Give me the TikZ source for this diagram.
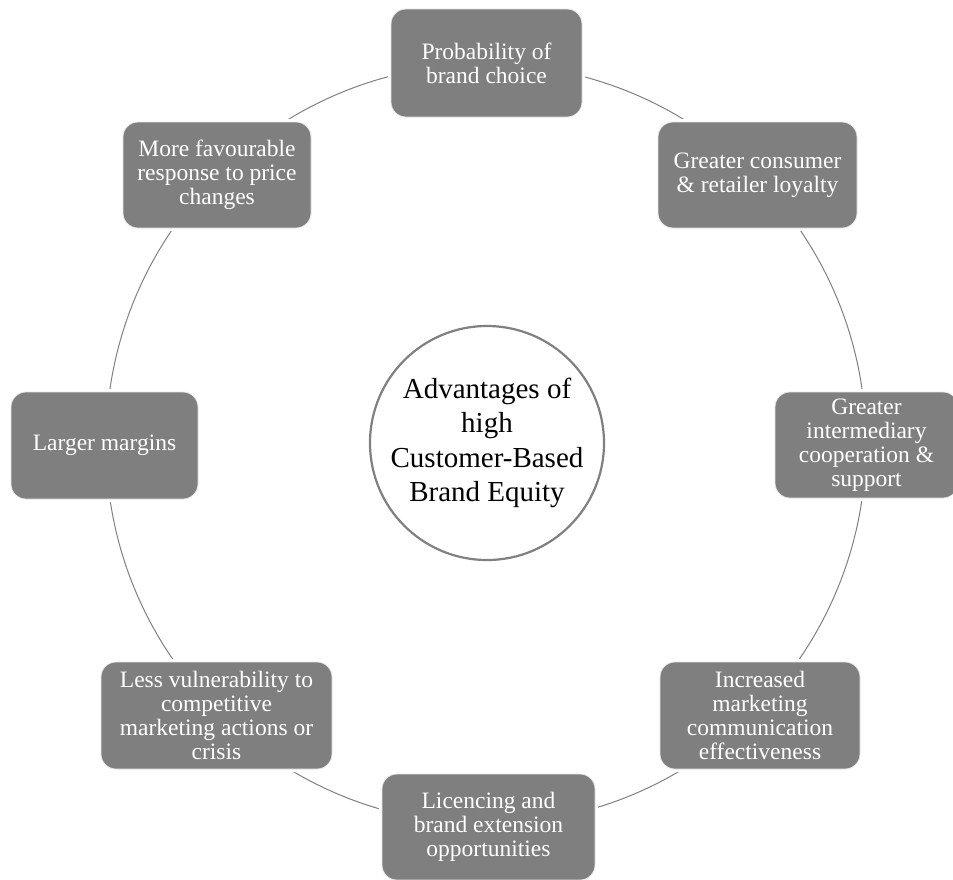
\documentclass[tikz,border=0pt]{standalone}
\usepackage{fontspec}
\setmainfont{Liberation Serif}
\definecolor{boxgray}{HTML}{7F7F7F}
\definecolor{boxedge}{HTML}{E6E6E6}
\definecolor{ringgray}{HTML}{808080}
\begin{document}
\begin{tikzpicture}[x=1pt,y=-1pt,
  benefit/.style={rectangle, rounded corners=15pt, fill=boxgray, draw=boxedge,
    line width=0.8pt, align=center, text=white, inner sep=0pt,
    font=\fontsize{23.5}{24}\selectfont,
    preaction={draw=white, line width=6pt}},
  hub/.style={circle, draw=ringgray, line width=2.2pt, fill=white, inner sep=0pt,
    align=center, font=\fontsize{29}{34.5}\selectfont, text=black},
  ringstyle/.style={circle, draw=ringgray, line width=1pt, inner sep=0pt}]
\useasboundingbox (0,0) rectangle (953,879);
\node[ringstyle, minimum size=760pt] (ring) at (486,444) {};
\node[hub, minimum size=234pt] (center) at (487,443) {Advantages of\\high\\Customer-Based\\Brand Equity};
\node[benefit, minimum width=191pt, minimum height=108pt] (top) at (486.5,63) {Probability of\\brand choice};
\node[benefit, minimum width=199pt, minimum height=106pt] (tr) at (757.5,175) {Greater consumer\\\& retailer loyalty};
\node[benefit, minimum width=183pt, minimum height=106pt] (r) at (866.5,445) {Greater\\intermediary\\cooperation \&\\support};
\node[benefit, minimum width=200pt, minimum height=107pt] (br) at (760,715.5) {Increased\\marketing\\communication\\effectiveness};
\node[benefit, minimum width=213pt, minimum height=106pt] (b) at (488.5,827) {Licencing and\\brand extension\\opportunities};
\node[benefit, minimum width=231pt, minimum height=107pt] (bl) at (216.5,715.5) {Less vulnerability to\\competitive\\marketing actions or\\crisis};
\node[benefit, minimum width=187pt, minimum height=107pt] (l) at (104.5,445.5) {Larger margins};
\node[benefit, minimum width=188pt, minimum height=106pt] (tl) at (217,175) {More favourable\\response to price\\changes};
\end{tikzpicture}
\end{document}
